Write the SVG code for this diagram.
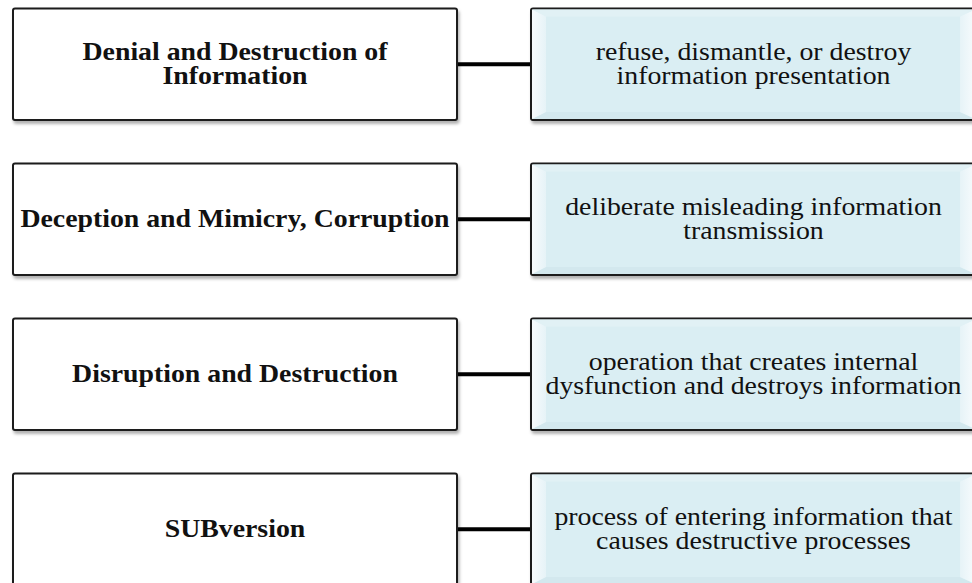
<svg xmlns="http://www.w3.org/2000/svg" width="972" height="583" viewBox="0 0 972 583">
<defs>
<filter id="sh" x="-5%" y="-10%" width="115%" height="130%">
<feDropShadow dx="1.5" dy="3" stdDeviation="1.8" flood-color="#000" flood-opacity="0.3"/>
</filter>
<linearGradient id="bl" x1="0" y1="0" x2="1" y2="0">
<stop offset="0" stop-color="#f7fbfd"/>
<stop offset="1" stop-color="#e6f3f7"/>
</linearGradient>
<linearGradient id="br" x1="1" y1="0" x2="0" y2="0">
<stop offset="0" stop-color="#f7fbfd"/>
<stop offset="1" stop-color="#e6f3f7"/>
</linearGradient>
</defs>
<style>
.lb{fill:#ffffff;stroke:#1a1a1a;stroke-width:2}
.rb{fill:#daeef3;stroke:#1a1a1a;stroke-width:2}
.bvl{fill:url(#bl)}
.bvr{fill:url(#br)}
.bvt{fill:#e1f1f5}
.bvb{fill:#d3e8ee}
.lt{font-family:"Liberation Serif","Times New Roman",serif;font-weight:bold;font-size:24.5px;fill:#111;text-anchor:middle}
.rt{font-family:"Liberation Serif","Times New Roman",serif;font-size:24.5px;fill:#111;text-anchor:middle}
.cn{stroke:#000;stroke-width:4;fill:none}
</style>
<rect width="972" height="583" fill="#ffffff"/>

<g id="connectors">
<line class="cn" x1="457" y1="64.25" x2="531" y2="64.25"/>
<line class="cn" x1="457" y1="219.25" x2="531" y2="219.25"/>
<line class="cn" x1="457" y1="374.25" x2="531" y2="374.25"/>
<line class="cn" x1="457" y1="529.25" x2="531" y2="529.25"/>
</g>

<g id="node-l1">
<rect class="lb" x="13" y="8.5" width="444" height="111.5" rx="2" filter="url(#sh)"/>
<text class="lt" transform="translate(235 59.75) scale(1.135 1)"><tspan x="0" y="0">Denial and Destruction of</tspan><tspan x="0" dy="24.5">Information</tspan></text>
</g>
<g id="node-r1">
<rect class="rb" x="531" y="8.5" width="445" height="111.5" rx="2" filter="url(#sh)"/>
<polygon class="bvt" points="532,9.5 975,9.5 960,16.5 546,16.5"/>
<polygon class="bvb" points="532,119 975,119 960,112 546,112"/>
<polygon class="bvl" points="532,9.5 546,16.5 546,112 532,119"/>
<polygon class="bvr" points="975,9.5 960,16.5 960,112 975,119"/>
<text class="rt" transform="translate(753.5 59.75) scale(1.135 1)"><tspan x="0" y="0">refuse, dismantle, or destroy</tspan><tspan x="0" dy="24.5">information presentation</tspan></text>
</g>

<g id="node-l2">
<rect class="lb" x="13" y="163.5" width="444" height="111.5" rx="2" filter="url(#sh)"/>
<text class="lt" transform="translate(235 227.25) scale(1.135 1)" x="0" y="0">Deception and Mimicry, Corruption</text>
</g>
<g id="node-r2">
<rect class="rb" x="531" y="163.5" width="445" height="111.5" rx="2" filter="url(#sh)"/>
<polygon class="bvt" points="532,164.5 975,164.5 960,171.5 546,171.5"/>
<polygon class="bvb" points="532,274 975,274 960,267 546,267"/>
<polygon class="bvl" points="532,164.5 546,171.5 546,267 532,274"/>
<polygon class="bvr" points="975,164.5 960,171.5 960,267 975,274"/>
<text class="rt" transform="translate(753.5 214.75) scale(1.135 1)"><tspan x="0" y="0">deliberate misleading information</tspan><tspan x="0" dy="24.5">transmission</tspan></text>
</g>

<g id="node-l3">
<rect class="lb" x="13" y="318.5" width="444" height="111.5" rx="2" filter="url(#sh)"/>
<text class="lt" transform="translate(235 382.25) scale(1.135 1)" x="0" y="0">Disruption and Destruction</text>
</g>
<g id="node-r3">
<rect class="rb" x="531" y="318.5" width="445" height="111.5" rx="2" filter="url(#sh)"/>
<polygon class="bvt" points="532,319.5 975,319.5 960,326.5 546,326.5"/>
<polygon class="bvb" points="532,429 975,429 960,422 546,422"/>
<polygon class="bvl" points="532,319.5 546,326.5 546,422 532,429"/>
<polygon class="bvr" points="975,319.5 960,326.5 960,422 975,429"/>
<text class="rt" transform="translate(753.5 369.75) scale(1.135 1)"><tspan x="0" y="0">operation that creates internal</tspan><tspan x="0" dy="24.5">dysfunction and destroys information</tspan></text>
</g>

<g id="node-l4">
<rect class="lb" x="13" y="473.5" width="444" height="111.5" rx="2" filter="url(#sh)"/>
<text class="lt" transform="translate(235 537.25) scale(1.135 1)" x="0" y="0">SUBversion</text>
</g>
<g id="node-r4">
<rect class="rb" x="531" y="473.5" width="445" height="111.5" rx="2" filter="url(#sh)"/>
<polygon class="bvt" points="532,474.5 975,474.5 960,481.5 546,481.5"/>
<polygon class="bvb" points="532,584 975,584 960,577 546,577"/>
<polygon class="bvl" points="532,474.5 546,481.5 546,577 532,584"/>
<polygon class="bvr" points="975,474.5 960,481.5 960,577 975,584"/>
<text class="rt" transform="translate(753.5 524.75) scale(1.135 1)"><tspan x="0" y="0">process of entering information that</tspan><tspan x="0" dy="24.5">causes destructive processes</tspan></text>
</g>
</svg>
